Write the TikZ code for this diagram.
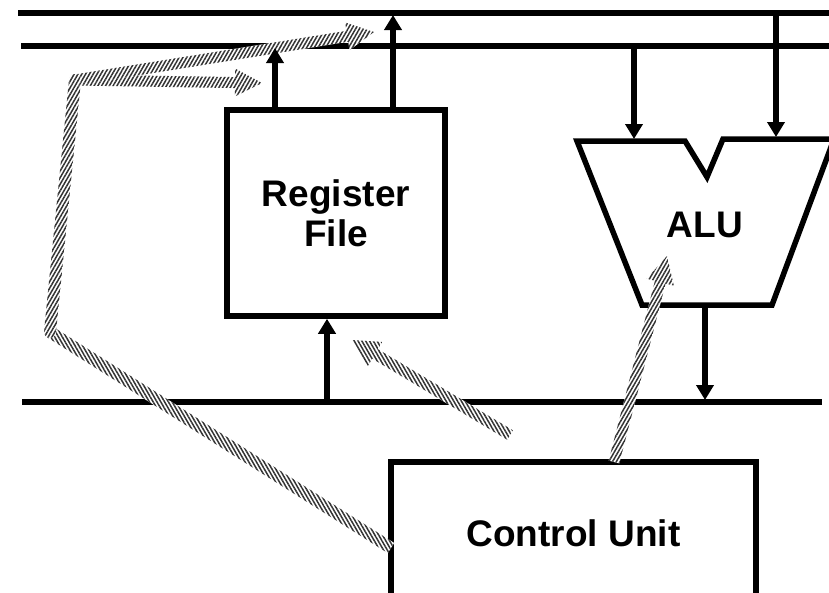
\documentclass[tikz,border=0pt]{standalone}
\usepackage{fontspec}
\setmainfont{Liberation Sans}
\usetikzlibrary{arrows.meta,calc,patterns.meta}
\newcommand\harrow[3][hatchA]{%
  \coordinate (hb) at ($(#3)!27pt!(#2)$);
  \path[#1] ($(#2)!5.5pt!90:(#3)$) -- ($(hb)!5.5pt!-90:(#2)$) -- ($(hb)!14pt!-90:(#2)$) -- (#3)
    -- ($(hb)!14pt!90:(#2)$) -- ($(hb)!5.5pt!90:(#2)$) -- ($(#2)!5.5pt!-90:(#3)$) -- cycle;}
\newcommand\hband[3][hatchA]{%
  \path[#1] ($(#2)!6pt!90:(#3)$) -- ($(#3)!6pt!-90:(#2)$) -- ($(#3)!6pt!90:(#2)$) -- ($(#2)!6pt!-90:(#3)$) -- cycle;}
\begin{document}
\begin{tikzpicture}[x=1pt,y=-1pt,
  bus/.style={line width=5.5pt},
  arr/.style={line width=5.5pt,-{Triangle[length=15pt,width=17pt]}},
  box/.style={draw,line width=5.5pt,align=center,inner sep=0pt,
    font=\fontsize{37}{40}\selectfont\bfseries},
  lbl/.style={align=center,inner sep=0pt,font=\fontsize{37}{40}\selectfont\bfseries},
  hatchA/.style={preaction={fill=white},pattern={Lines[angle=60,distance=3.3pt,line width=1.5pt]},pattern color=black!80},
  hatchB/.style={preaction={fill=white},pattern={Lines[angle=-60,distance=3.3pt,line width=1.5pt]},pattern color=black!80},
]
\useasboundingbox (0,0) rectangle (829,592);
\clip (0,0) rectangle (829,592);
% buses
\coordinate (t1) at (18,13);  \coordinate (t2) at (845,13);
\coordinate (m1) at (21,46);  \coordinate (m2) at (845,46);
\coordinate (b1) at (22,402); \coordinate (b2) at (822,402);
\draw[bus] (t1) -- (t2);
\draw[bus] (m1) -- (m2);
\draw[bus] (b1) -- (b2);
% register file
\node[box,minimum width=218pt,minimum height=206pt] (rf) at (336,213) {Register\\File};
% control unit
\node[box,minimum width=365pt,minimum height=142pt] (cu) at (573.5,533) {Control Unit};
% ALU
\draw[line width=5.5pt,line join=miter] (577,141) -- (685,141) -- (707,177) -- (723,139) -- (834,139)
  -- (772,305) -- (642,305) -- cycle;
\node[lbl] (alu) at (705,225) {ALU};
\coordinate (aluout) at (705,305);
% hatched control arrows
\coordinate (p0) at (391,548);
\coordinate (p1) at (50,332);
\coordinate (p2) at (75,80);
\coordinate (ha) at (262,83);
\coordinate (hbt) at (374,32);
\hband[hatchB]{p0}{p1}
\hband{p1}{p2}
\path[hatchA] (p1) circle[radius=6pt];
\harrow{p2}{ha}
\harrow{p2}{hbt}
\path[hatchA] (p2) circle[radius=6pt];
\coordinate (q0) at (510,435);
\coordinate (q1) at (352,340);
\harrow[hatchB]{q0}{q1}
\coordinate (r0) at (614,462);
\coordinate (r1) at (667,256);
\harrow{r0}{r1}
% data arrows
\draw[arr] (rf.north -| 275,0) -- (275,48);
\draw[arr] (rf.north -| 393,0) -- (393,15);
\draw[arr] (327,402) -- (rf.south -| 327,0);
\draw[arr] (634,46) -- (634,139);
\draw[arr] (776,13) -- (776,137);
\draw[arr] (aluout) -- (705,400);
\end{tikzpicture}
\end{document}
